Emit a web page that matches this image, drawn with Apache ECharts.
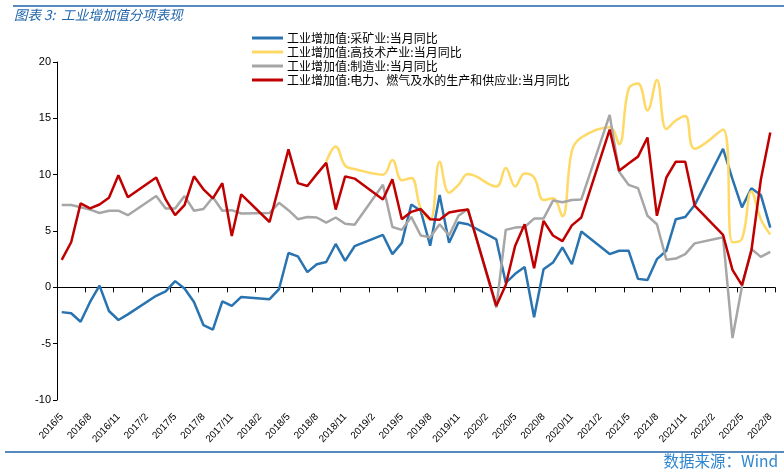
<!DOCTYPE html>
<html>
<head>
<meta charset="utf-8">
<script src="https://cdn.jsdelivr.net/npm/echarts@6/dist/echarts.min.js"></script>
<style>
html,body{margin:0;padding:0;background:#fff;}
#c{width:784px;height:476px;}
</style>
</head>
<body>
<div id="c"></div>
<script>
var categories = [
"2016/5","2016/6","2016/7","2016/8","2016/9","2016/10","2016/11","2016/12",
"2017/1","2017/2","2017/3","2017/4","2017/5","2017/6","2017/7","2017/8","2017/9","2017/10","2017/11","2017/12",
"2018/1","2018/2","2018/3","2018/4","2018/5","2018/6","2018/7","2018/8","2018/9","2018/10","2018/11","2018/12",
"2019/1","2019/2","2019/3","2019/4","2019/5","2019/6","2019/7","2019/8","2019/9","2019/10","2019/11","2019/12",
"2020/1","2020/2","2020/3","2020/4","2020/5","2020/6","2020/7","2020/8","2020/9","2020/10","2020/11","2020/12",
"2021/1","2021/2","2021/3","2021/4","2021/5","2021/6","2021/7","2021/8","2021/9","2021/10","2021/11","2021/12",
"2022/1","2022/2","2022/3","2022/4","2022/5","2022/6","2022/7","2022/8"
];
var seriesNames = [
"工业增加值:采矿业:当月同比",
"工业增加值:高技术产业:当月同比",
"工业增加值:制造业:当月同比",
"工业增加值:电力、燃气及水的生产和供应业:当月同比"
];
var mining = [
-2.2,-2.3,-3.05,-1.3,0.15,-2.1,-2.9,-2.4,
null,null,-0.75,-0.35,0.55,-0.1,-1.3,-3.35,-3.75,-1.25,-1.65,-0.85,
null,null,-1.05,-0.15,3.05,2.75,1.35,2.05,2.25,3.85,2.35,3.65,
null,null,4.65,2.95,3.95,7.35,6.8,3.7,8.2,3.95,5.75,5.6,
null,null,4.25,0.4,1.2,1.8,-2.65,1.6,2.2,3.55,2.05,4.95,
null,null,2.95,3.25,3.25,0.75,0.65,2.5,3.25,6.05,6.25,7.3,
null,null,12.3,9.6,7.1,8.8,8.2,5.3
];
var hightech = [
null,null,null,null,null,null,null,null,
null,null,null,null,null,null,null,null,null,null,null,null,
null,null,null,null,null,null,null,null,11.15,12.5,10.8,10.5,
null,null,10.0,11.3,9.5,9.7,7.0,6.0,11.15,8.4,9.1,10.05,
null,null,8.95,10.6,8.95,10.1,9.75,7.75,7.9,6.3,12.1,13.3,
null,null,14.2,12.7,17.6,18.1,15.7,18.4,14.05,14.8,15.2,12.3,
null,null,14.0,4.0,4.3,8.5,6.05,4.7
];
var manufacturing = [
7.3,7.3,7.1,6.9,6.6,6.8,6.8,6.4,
null,null,8.1,7.0,7.0,8.1,6.8,6.95,8.0,6.8,6.85,6.55,
null,null,6.6,7.5,6.85,6.05,6.25,6.2,5.75,6.2,5.65,5.55,
null,null,9.1,5.35,5.1,6.25,4.6,4.45,5.6,4.6,6.35,6.95,
null,null,-1.8,5.1,5.3,5.35,6.1,6.1,7.7,7.55,7.75,7.8,
null,null,15.3,10.25,9.1,8.8,6.35,5.6,2.45,2.55,2.95,3.9,
null,null,4.45,-4.5,0.05,3.4,2.7,3.15
];
var utilities = [
2.43,4.0,7.45,7.0,7.35,7.95,9.95,8.0,
null,null,9.75,7.8,6.4,7.3,9.85,8.7,7.9,9.25,4.55,8.25,
null,null,5.8,9.0,12.25,9.25,9.0,10.05,11.05,6.9,9.85,9.65,
null,null,7.8,9.6,6.05,6.7,6.95,6.05,6.0,6.65,6.8,6.9,
null,null,-1.65,0.2,3.7,5.6,1.7,5.9,4.6,4.1,5.5,6.2,
null,null,14.0,10.35,11.0,11.6,13.3,6.35,9.75,11.15,11.15,7.25,
null,null,4.65,1.55,0.2,3.25,9.55,13.75
];
var yTicks = {min:-10, max:20, interval:5};

var numFont = '"Liberation Sans",Arial,sans-serif';
var cjkFont = '"Noto Sans CJK SC","Noto Sans",sans-serif';
var colors = ['#2873B0','#FFD966','#A6A6A6','#C00000'];

var chart = echarts.init(document.getElementById('c'), null, {renderer:'canvas'});
function mk(name, data, color, smooth){
  return {
    name:name, type:'line', data:data, xAxisIndex:0, yAxisIndex:0,
    symbol:'none', connectNulls:true, smooth:smooth,
    lineStyle:{color:color, width:2.5}, itemStyle:{color:color},
    emphasis:{disabled:true}, animation:false
  };
}
chart.setOption({
  animation:false,
  grid:{left:57, right:9, top:62, bottom:76, containLabel:false},
  legend:{
    orient:'vertical', left:247, top:27, itemGap:2,
    itemWidth:31, itemHeight:3, icon:'rect',
    textStyle:{fontFamily:cjkFont, fontSize:12, color:'#000', lineHeight:12, padding:[0,0,0,-1]},
    data:seriesNames
  },
  graphic:[
    {type:'line', shape:{x1:13,y1:6,x2:784,y2:6}, style:{stroke:'#1F64A8', lineWidth:1.5}},
    {type:'text', left:14, top:8, style:{text:'图表 3:  工业增加值分项表现', fill:'#2366AC', font:'italic 13.5px '+cjkFont}},
    {type:'line', shape:{x1:5,y1:452,x2:784,y2:452}, style:{stroke:'#1F64A8', lineWidth:1.5}},
    {type:'text', right:6, top:453, style:{text:'数据来源：Wind', fill:'#2E86D0', font:'15.5px '+cjkFont}}
  ],
  xAxis:[
    {type:'category', data:categories, position:'bottom', boundaryGap:true,
     axisLine:{show:false, onZero:false}, axisTick:{show:false},
     axisLabel:{interval:2, rotate:47, fontFamily:numFont, fontSize:10, color:'#000', margin:15}},
    {type:'category', data:categories, position:'top', boundaryGap:true,
     axisLine:{show:true, onZero:true, lineStyle:{color:'#000', width:1}},
     axisTick:{show:true, inside:true, interval:2, length:5, lineStyle:{color:'#000'}},
     axisLabel:{show:false}}
  ],
  yAxis:{type:'value', min:yTicks.min, max:yTicks.max, interval:yTicks.interval,
    axisLine:{show:true, lineStyle:{color:'#000', width:1}},
    axisTick:{show:true, length:4, lineStyle:{color:'#000'}},
    splitLine:{show:false},
    axisLabel:{fontFamily:numFont, fontSize:11, color:'#000', margin:6}},
  series:[
    mk(seriesNames[0], mining, colors[0], false),
    mk(seriesNames[1], hightech, colors[1], 0.4),
    mk(seriesNames[2], manufacturing, colors[2], false),
    mk(seriesNames[3], utilities, colors[3], false)
  ]
});
</script>
</body>
</html>
